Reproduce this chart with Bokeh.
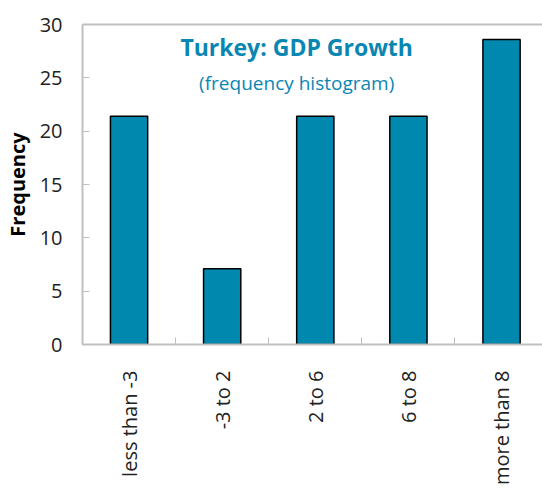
import math
from bokeh.plotting import figure
from bokeh.models import Range1d, FixedTicker, LinearAxis, Label, ColumnDataSource
from bokeh.embed import file_html
from bokeh.resources import INLINE

categories = ["less than -3", "-3 to 2", "2 to 6", "6 to 8", "more than 8"]
frequency = [21.4, 7.1, 21.4, 21.4, 28.6]
y_ticks = [0, 5, 10, 15, 20, 25, 30]

title_text = "Turkey: GDP Growth"
subtitle_text = "(frequency histogram)"

FONT = "Open Sans"
BAR = "#0088AF"
TITLE_C = "#0A86B3"
GRID = "#BFBFBF"

xs = [i + 0.5 for i in range(len(categories))]
src = ColumnDataSource(dict(x=xs, top=frequency, cat=categories))

p = figure(width=542, height=488, output_backend="svg", toolbar_location=None,
           x_range=Range1d(0, 4.94), y_range=Range1d(0, 30),
           min_border_left=79, min_border_right=0, min_border_top=24, min_border_bottom=143)
p.outline_line_color = None
p.xgrid.grid_line_color = None
p.ygrid.grid_line_color = None

p.vbar(x="x", top="top", bottom=0, width=0.4, source=src,
       fill_color=BAR, line_color="black", line_width=1.5)

# x axis
xa = p.xaxis[0]
xa.ticker = FixedTicker(ticks=xs, minor_ticks=[i for i in range(1, len(categories))])
xa.major_label_overrides = {x: c for x, c in zip(xs, categories)}
xa.major_label_orientation = math.pi / 2
xa.major_tick_line_color = None
xa.minor_tick_line_color = GRID
xa.minor_tick_in = 7
xa.minor_tick_out = 0
xa.axis_line_color = GRID
xa.axis_line_width = 2
xa.major_label_text_font = FONT
xa.major_label_text_font_size = "20px"
xa.major_label_text_color = "#222222"
xa.major_label_standoff = 20

# y axis
ya = p.yaxis[0]
ya.ticker = FixedTicker(ticks=y_ticks)
ya.minor_tick_line_color = None
ya.major_tick_line_color = GRID
ya.major_tick_in = 7
ya.major_tick_out = 0
ya.axis_line_color = GRID
ya.axis_line_width = 2
ya.major_label_text_font = FONT
ya.major_label_text_font_size = "20px"
ya.major_label_text_color = "#222222"
ya.major_label_standoff = 20
ya.axis_label = "Frequency"
ya.axis_label_text_font = FONT
ya.axis_label_text_font_style = "bold"
ya.axis_label_text_font_size = "20px"
ya.axis_label_text_color = "black"
ya.axis_label_standoff = 6

# top border line
top_axis = LinearAxis(axis_line_color=GRID, axis_line_width=2, major_tick_line_color=None,
                      minor_tick_line_color=None, major_label_text_font_size="0px",
                      ticker=FixedTicker(ticks=[]))
p.add_layout(top_axis, "above")

p.add_layout(Label(x=2.3, y=27.85, text=title_text, text_align="center", text_baseline="middle",
                   text_font=FONT, text_font_style="bold", text_font_size="23px", text_color=TITLE_C))
p.add_layout(Label(x=2.3, y=24.5, text=subtitle_text, text_align="center", text_baseline="middle",
                   text_font=FONT, text_font_size="19px", text_color=TITLE_C))

open("out.html", "w").write(file_html(p, INLINE))
